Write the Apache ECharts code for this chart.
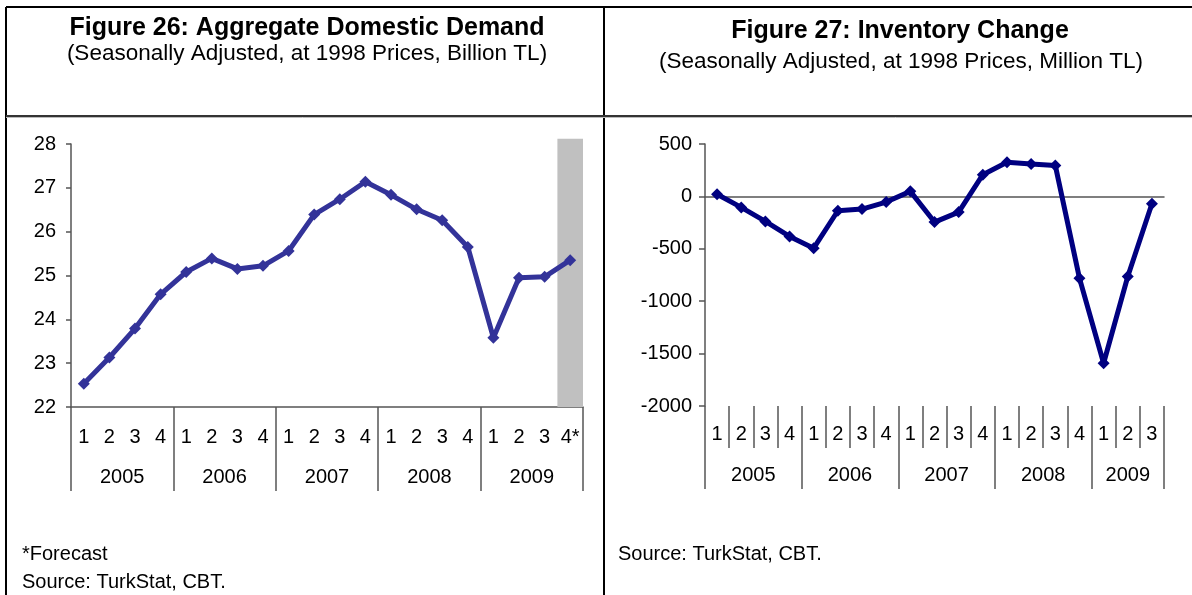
<!DOCTYPE html>
<html>
<head>
<meta charset="utf-8">
<script src="https://cdn.jsdelivr.net/npm/echarts@6/dist/echarts.min.js"></script>
<style>
  html, body { margin: 0; padding: 0; background: #fff; }
  #main { width: 1192px; height: 595px; }
</style>
</head>
<body>
<div id="main"></div>
<script>
// quarters, 2005 Q1 .. 2009 Q4 (Q4 2009 is forecast)
const quartersDemand = ['1','2','3','4','1','2','3','4','1','2','3','4','1','2','3','4','1','2','3','4*'];
const quartersInventory = ['1','2','3','4','1','2','3','4','1','2','3','4','1','2','3','4','1','2','3'];
const years = ['2005', '2006', '2007', '2008', '2009'];

// Figure 26: aggregate domestic demand, billion TL
const demand = [22.53, 23.13, 23.79, 24.57, 25.08, 25.39, 25.15, 25.22, 25.56, 26.39,
                26.74, 27.14, 26.84, 26.51, 26.26, 25.65, 23.58, 24.95, 24.97, 25.35];
// Figure 27: inventory change, million TL
const inventory = [20, -105, -239, -382, -494, -137, -121, -54, 48, -245,
                   -150, 207, 325, 309, 296, -780, -1592, -764, -70];

// forecast shading: category index and top value
const forecastBand = [19, 28.12];

// year boundaries / year label centres (in quarter units)
const demandYearTicks = [0, 4, 8, 12, 16, 20];
const demandYearLabels = [2, 6, 10, 14, 18];
const invYearTicks = [0, 4, 8, 12, 16, 19];
const invYearLabels = [2, 6, 10, 14, 17.5];

const FONT = 'Liberation Sans, Arial, sans-serif';
const axisGrey = '#555';
const LABEL_SIZE = 20;

function yearFormatter(centres) {
  return function (v) {
    const i = centres.indexOf(v);
    return i >= 0 ? years[i] : '';
  };
}

const chart = echarts.init(document.getElementById('main'));

chart.setOption({
  animation: false,
  textStyle: { fontFamily: FONT },
  title: [
    { text: 'Figure 26: Aggregate Domestic Demand', left: 302, top: 11, textAlign: 'center',
      textStyle: { fontSize: 25, fontWeight: 'bold', color: '#000', fontFamily: FONT } },
    { text: '(Seasonally Adjusted, at 1998 Prices, Billion TL)', left: 302, top: 37, textAlign: 'center',
      textStyle: { fontSize: 22.5, fontWeight: 'normal', color: '#000', fontFamily: FONT } },
    { text: 'Figure 27: Inventory Change', left: 895, top: 14, textAlign: 'center',
      textStyle: { fontSize: 25, fontWeight: 'bold', color: '#000', fontFamily: FONT } },
    { text: '(Seasonally Adjusted, at 1998 Prices, Million TL)', left: 896, top: 45, textAlign: 'center',
      textStyle: { fontSize: 22.5, fontWeight: 'normal', color: '#000', fontFamily: FONT } },
    { text: '*Forecast', left: 17, top: 539,
      textStyle: { fontSize: 20, fontWeight: 'normal', color: '#000', fontFamily: FONT } },
    { text: 'Source: TurkStat, CBT.', left: 17, top: 567,
      textStyle: { fontSize: 20, fontWeight: 'normal', color: '#000', fontFamily: FONT } },
    { text: 'Source: TurkStat, CBT.', left: 613, top: 539,
      textStyle: { fontSize: 20, fontWeight: 'normal', color: '#000', fontFamily: FONT } }
  ],
  graphic: [
    { type: 'line', shape: { x1: 6, y1: 7, x2: 1192, y2: 7 }, style: { stroke: '#000', lineWidth: 2 } },
    { type: 'line', shape: { x1: 6, y1: 7, x2: 6, y2: 595 }, style: { stroke: '#000', lineWidth: 2 } },
    { type: 'line', shape: { x1: 604, y1: 7, x2: 604, y2: 595 }, style: { stroke: '#000', lineWidth: 2 } },
    { type: 'line', shape: { x1: 6, y1: 116, x2: 1192, y2: 116 }, style: { stroke: '#333', lineWidth: 2 } },
    { type: 'line', shape: { x1: 6, y1: 117.5, x2: 1192, y2: 117.5 }, style: { stroke: '#bbb', lineWidth: 1 } }
  ],
  grid: [
    { left: 71, top: 144, width: 512, height: 263 },
    { left: 705, top: 144, width: 459, height: 262 }
  ],
  xAxis: [
    // Figure 26 quarters
    { type: 'category', gridIndex: 0, data: quartersDemand, position: 'bottom', boundaryGap: true,
      axisLine: { onZero: false, lineStyle: { color: axisGrey, width: 1.5 } },
      axisTick: { length: 44, lineStyle: { color: axisGrey, width: 1.5 } },
      axisLabel: { margin: 20, fontSize: LABEL_SIZE, color: '#000', interval: 0 } },
    // Figure 26 years
    { type: 'value', gridIndex: 0, min: 0, max: 20, position: 'bottom', splitLine: { show: false },
      axisLine: { show: false, onZero: false },
      axisTick: { show: true, customValues: demandYearTicks, length: 84, lineStyle: { color: axisGrey, width: 1.5 } },
      axisLabel: { customValues: demandYearLabels, formatter: yearFormatter(demandYearLabels), margin: 60, fontSize: LABEL_SIZE, color: '#000' } },
    // Figure 27 zero line
    { type: 'category', gridIndex: 1, data: quartersInventory, boundaryGap: true,
      axisLine: { onZero: true, lineStyle: { color: axisGrey, width: 1.5 } },
      axisTick: { length: 7, lineStyle: { color: axisGrey, width: 1.5 } },
      axisLabel: { show: false } },
    // Figure 27 quarters
    { type: 'category', gridIndex: 1, data: quartersInventory, position: 'bottom', boundaryGap: true,
      axisLine: { show: false, onZero: false },
      axisTick: { show: true, length: 42, lineStyle: { color: axisGrey, width: 1.5 } },
      axisLabel: { margin: 18, fontSize: LABEL_SIZE, color: '#000', interval: 0 } },
    // Figure 27 years
    { type: 'value', gridIndex: 1, min: 0, max: 19, position: 'bottom', splitLine: { show: false },
      axisLine: { show: false, onZero: false },
      axisTick: { show: true, customValues: invYearTicks, length: 83, lineStyle: { color: axisGrey, width: 1.5 } },
      axisLabel: { customValues: invYearLabels, formatter: yearFormatter(invYearLabels), margin: 59, fontSize: LABEL_SIZE, color: '#000' } }
  ],
  yAxis: [
    { type: 'value', gridIndex: 0, min: 22, max: 28, interval: 1, splitLine: { show: false },
      axisLine: { show: true, lineStyle: { color: axisGrey, width: 1.5 } },
      axisTick: { show: true, length: 5, lineStyle: { color: axisGrey, width: 1.5 } },
      axisLabel: { margin: 15, fontSize: LABEL_SIZE, color: '#000' } },
    { type: 'value', gridIndex: 1, min: -2000, max: 500, interval: 500, splitLine: { show: false },
      axisLine: { show: true, onZero: false, lineStyle: { color: axisGrey, width: 1.5 } },
      axisTick: { show: true, length: 6, lineStyle: { color: axisGrey, width: 1.5 } },
      axisLabel: { margin: 13, fontSize: LABEL_SIZE, color: '#000', formatter: function (v) { return String(v); } } }
  ],
  series: [
    { type: 'custom', xAxisIndex: 0, yAxisIndex: 0, clip: false, z: 1,
      data: [forecastBand],
      renderItem: function (params, api) {
        const base = api.coord([api.value(0), 22]);
        const top = api.coord([api.value(0), api.value(1)]);
        const w = api.size([1, 0])[0];
        return { type: 'rect', shape: { x: base[0] - w / 2, y: top[1], width: w, height: base[1] - top[1] },
                 style: { fill: '#c0c0c0' } };
      } },
    { type: 'line', xAxisIndex: 0, yAxisIndex: 0, data: demand, z: 3,
      symbol: 'diamond', symbolSize: 12, showAllSymbol: true,
      lineStyle: { color: '#333399', width: 5 }, itemStyle: { color: '#333399' } },
    { type: 'line', xAxisIndex: 2, yAxisIndex: 1, data: inventory, z: 3,
      symbol: 'diamond', symbolSize: 12, showAllSymbol: true,
      lineStyle: { color: '#000080', width: 5 }, itemStyle: { color: '#000080' } }
  ]
});
</script>
</body>
</html>
